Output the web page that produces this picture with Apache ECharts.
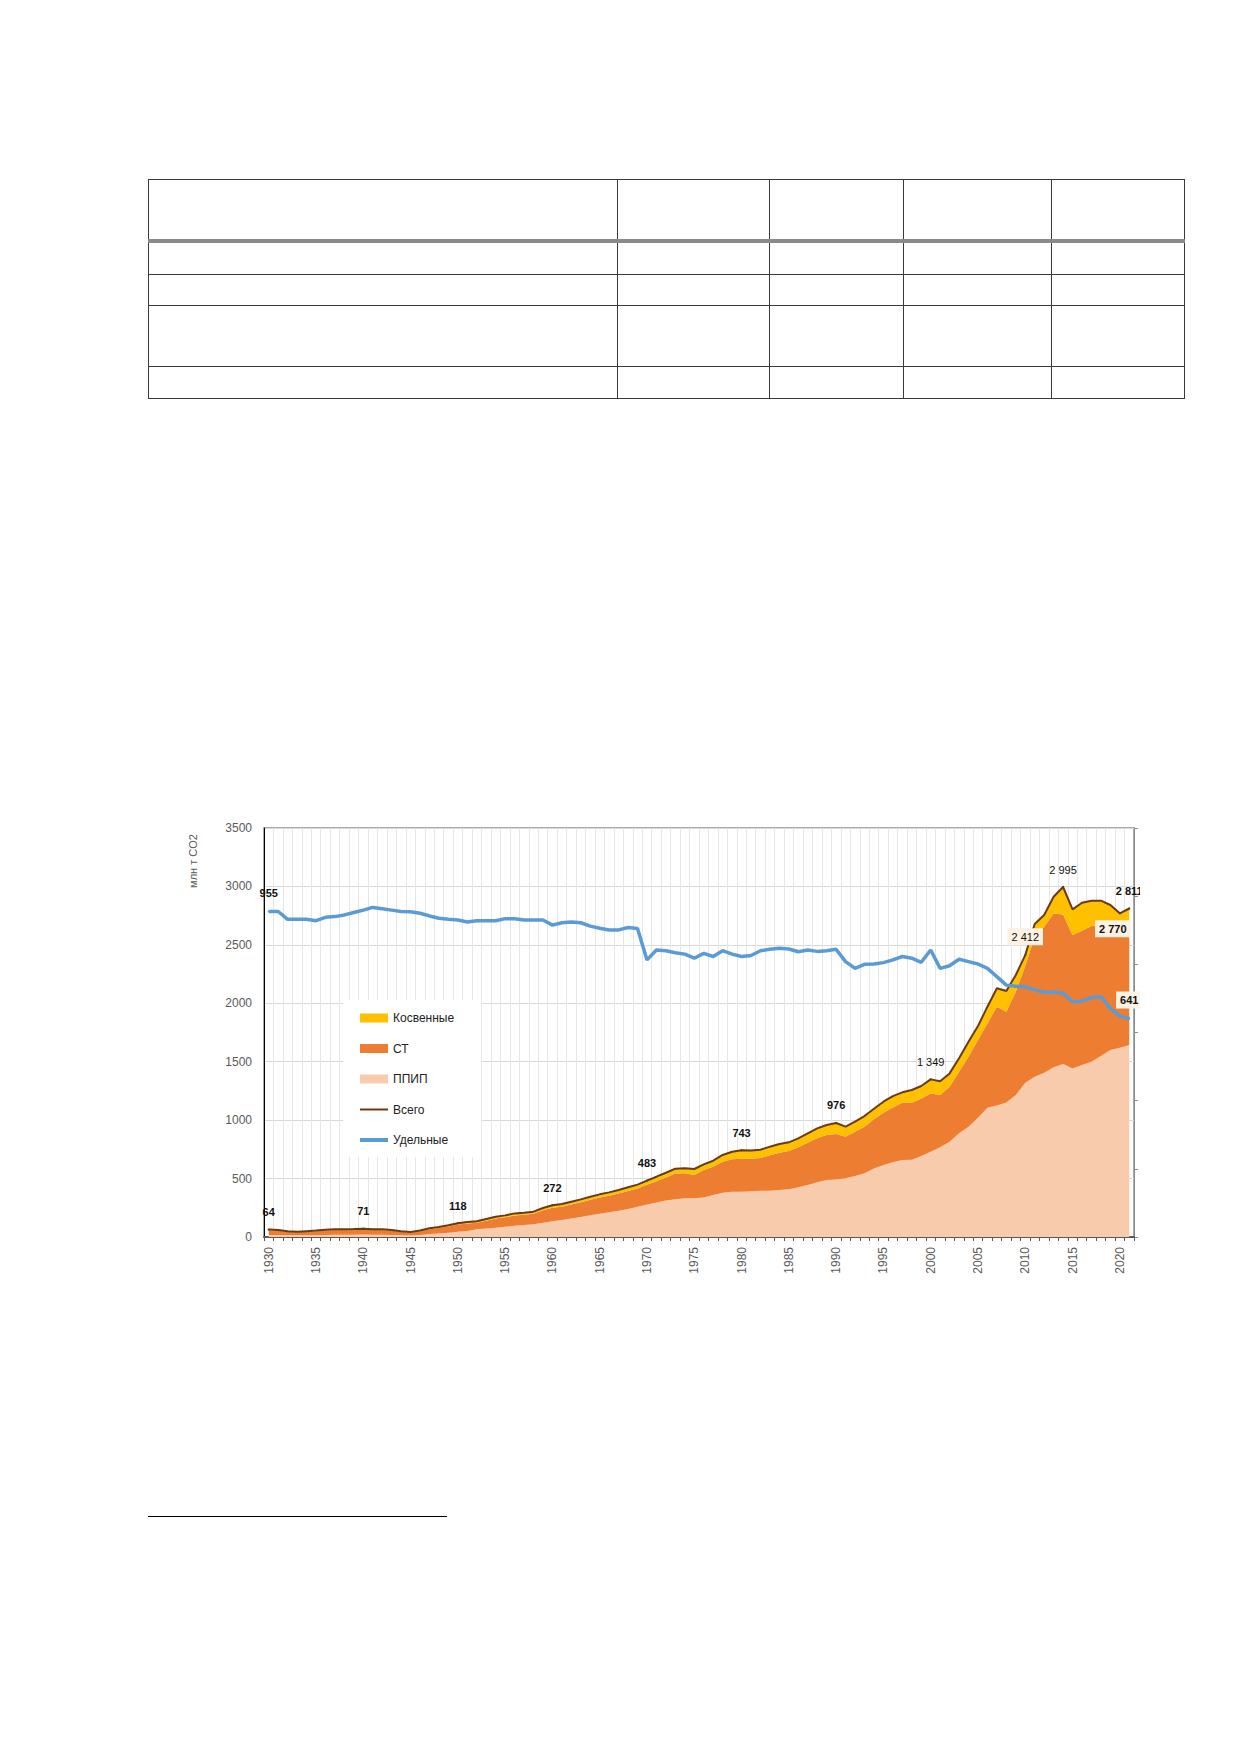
<!DOCTYPE html>
<html>
<head>
<meta charset="utf-8">
<title>Выбросы CO2</title>
<script src="https://cdn.jsdelivr.net/npm/echarts@6/dist/echarts.min.js"></script>
<style>
    html, body {margin: 0; padding: 0; background: #fff;}
    body {width: 1240px; height: 1754px; position: relative; overflow: hidden; font-family: "Liberation Sans", Arial, sans-serif;}
    /* пустая таблица над графиком */
    table.tbl {position: absolute; left: 148px; top: 179px; border-collapse: collapse;}
    table.tbl td {border: 1.5px solid #3a3a3a; padding: 0;}
    table.tbl tr.head td {border-bottom: 4px solid #8a8a8a;}
    #footnote {position: absolute; left: 148px; top: 1516px; width: 299px; height: 0; border-top: 1px solid #000;}
    #chart {position: absolute; left: 0; top: 790px; width: 1140px; height: 510px;}
</style>
</head>
<body>

<table class="tbl">
    <tr class="head" style="height:61px"><td style="width:468px"></td><td style="width:151px"></td><td style="width:133px"></td><td style="width:147px"></td><td style="width:132px"></td></tr>
    <tr style="height:34px"><td></td><td></td><td></td><td></td><td></td></tr>
    <tr style="height:31px"><td></td><td></td><td></td><td></td><td></td></tr>
    <tr style="height:61px"><td></td><td></td><td></td><td></td><td></td></tr>
    <tr style="height:32px"><td></td><td></td><td></td><td></td><td></td></tr>
</table>

<div id="chart"></div>
<div id="footnote"></div>

<script>
// годы
var years = [1930, 1931, 1932, 1933, 1934, 1935, 1936, 1937, 1938, 1939,
    1940, 1941, 1942, 1943, 1944, 1945, 1946, 1947, 1948, 1949,
    1950, 1951, 1952, 1953, 1954, 1955, 1956, 1957, 1958, 1959,
    1960, 1961, 1962, 1963, 1964, 1965, 1966, 1967, 1968, 1969,
    1970, 1971, 1972, 1973, 1974, 1975, 1976, 1977, 1978, 1979,
    1980, 1981, 1982, 1983, 1984, 1985, 1986, 1987, 1988, 1989,
    1990, 1991, 1992, 1993, 1994, 1995, 1996, 1997, 1998, 1999,
    2000, 2001, 2002, 2003, 2004, 2005, 2006, 2007, 2008, 2009,
    2010, 2011, 2012, 2013, 2014, 2015, 2016, 2017, 2018, 2019,
    2020, 2021];

// ППИП, млн т CO2
var ppip = [18, 17, 15, 14, 15, 16, 18, 19, 19, 20,
    21, 20, 20, 18, 15, 13, 18, 25, 30, 37,
    45, 52, 66, 72, 80, 88, 96, 103, 110, 122,
    135, 145, 158, 172, 186, 200, 212, 225, 240, 258,
    278, 296, 312, 322, 331, 331, 339, 359, 379, 388,
    388, 391, 396, 396, 402, 408, 425, 445, 468, 488,
    493, 502, 522, 545, 587, 616, 640, 659, 662, 693,
    730, 767, 816, 887, 944, 1020, 1105, 1125, 1150, 1215,
    1320, 1372, 1406, 1452, 1480, 1443, 1472, 1500, 1549, 1600,
    1620, 1643];

// СТ
var st = [39, 36, 29, 26, 29, 33, 37, 40, 40, 41,
    43, 40, 39, 36, 30, 24, 31, 42, 46, 53,
    61, 63, 55, 68, 79, 81, 89, 87, 89, 106,
    115, 114, 120, 125, 133, 138, 142, 147, 153, 156,
    169, 182, 198, 221, 214, 199, 234, 243, 266, 277,
    282, 279, 280, 303, 319, 328, 342, 362, 376, 385,
    389, 356, 379, 399, 420, 448, 469, 490, 487, 493,
    499, 448, 470, 528, 599, 666, 723, 846, 778, 884,
    1000, 1198, 1249, 1317, 1280, 1141, 1149, 1161, 1120, 1069,
    1030, 1037];

// Косвенные
var kos = [7, 7, 6, 5, 6, 6, 7, 7, 7, 7,
    7, 7, 7, 6, 5, 5, 6, 8, 9, 10,
    12, 13, 13, 14, 15, 16, 17, 18, 18, 20,
    22, 23, 24, 25, 26, 27, 28, 30, 32, 34,
    36, 38, 40, 42, 43, 52, 49, 51, 57, 65,
    73, 71, 71, 74, 75, 74, 77, 80, 86, 85,
    94, 86, 86, 91, 91, 94, 97, 89, 109, 106,
    120, 117, 114, 114, 128, 119, 143, 157, 177, 143,
    92, 108, 100, 143, 235, 220, 239, 217, 209, 172,
    120, 131];

// Всего
var total = [64, 60, 50, 45, 50, 55, 62, 66, 66, 68,
    71, 67, 66, 60, 50, 42, 55, 75, 85, 100,
    118, 128, 134, 154, 174, 185, 202, 208, 217, 248,
    272, 282, 302, 322, 345, 365, 382, 402, 425, 448,
    483, 516, 550, 585, 588, 582, 622, 653, 702, 730,
    743, 741, 747, 773, 796, 810, 844, 887, 930, 958,
    976, 944, 987, 1035, 1098, 1158, 1206, 1238, 1258, 1292,
    1349, 1332, 1400, 1529, 1671, 1805, 1971, 2128, 2105, 2242,
    2412, 2678, 2755, 2912, 2995, 2804, 2860, 2878, 2878, 2841,
    2770, 2811];

// Удельные (правая ось)
var specific = [955, 955, 932, 932, 932, 928, 938, 940, 945, 952,
    959, 967, 963, 959, 955, 954, 950, 942, 935, 932,
    930, 924, 928, 928, 928, 934, 934, 930, 930, 930,
    915, 922, 924, 922, 912, 906, 901, 901, 908, 905,
    813, 842, 840, 834, 830, 818, 832, 823, 840, 830,
    823, 826, 840, 844, 847, 845, 837, 842, 838, 840,
    844, 808, 788, 800, 801, 805, 813, 823, 818, 806,
    842, 788, 796, 815, 808, 801, 788, 764, 739, 736,
    734, 725, 718, 718, 715, 690, 692, 703, 705, 671,
    648, 641];

// подписанные точки
var totalLabelYears = [1930, 1940, 1950, 1960, 1970, 1980, 1990, 2000, 2010, 2014, 2020, 2021];
var plainLabelYears = [2000, 2010, 2014];
var boxLabelYears = [2010, 2020];
var specificLabelYears = [1930, 2021];

var FONT = '"Liberation Sans", Arial, sans-serif';
var BOX = '#fcf1e2';

function fmt(v) {
    if (v < 1000) return String(v);
    var r = v % 1000;
    return Math.floor(v / 1000) + ' ' + (r < 10 ? '00' : r < 100 ? '0' : '') + r;
}

var totalData = total.map(function (v, i) {
    var y = years[i];
    if (totalLabelYears.indexOf(y) < 0) return v;
    var lab = {
        show: true, position: 'top', distance: 11,
        formatter: fmt(v), color: '#111', fontSize: 11, fontFamily: FONT,
        fontWeight: plainLabelYears.indexOf(y) < 0 ? 'bold' : 'normal'
    };
    if (boxLabelYears.indexOf(y) >= 0) {
        lab.backgroundColor = BOX;
        lab.padding = [3, 4];
        lab.distance = 9;
    }
    if (y === 2020) {
        lab.position = 'bottom';
        lab.distance = 6;
        lab.offset = [-7, 0];
    }
    return {value: v, symbol: 'circle', symbolSize: 2, label: lab};
});

var specificData = specific.map(function (v, i) {
    var y = years[i];
    if (specificLabelYears.indexOf(y) < 0) return v;
    var lab = {
        show: true, position: 'top', distance: 12,
        formatter: String(v), color: '#111', fontSize: 11, fontFamily: FONT, fontWeight: 'bold'
    };
    if (y === 2021) {
        lab.backgroundColor = BOX;
        lab.padding = [3, 4];
        lab.distance = 9;
    }
    return {value: v, symbol: 'circle', symbolSize: 2, label: lab};
});

function area(name, data, color) {
    return {
        name: name, type: 'line', stack: 'emis', data: data,
        symbol: 'none', color: color,
        lineStyle: {width: 0},
        areaStyle: {color: color, opacity: 1},
        silent: true
    };
}

var myChart = echarts.init(document.getElementById('chart'), null, {renderer: 'svg'});

var option = {
    animation: false,
    textStyle: {fontFamily: FONT},
    grid: {
        left: 264, top: 38, right: 6, bottom: 63,
        show: true, borderColor: '#8c8c8c', borderWidth: 1.5
    },
    legend: {
        left: 343, top: 210,
        orient: 'vertical',
        backgroundColor: '#fff',
        padding: [11, 27, 10, 17],
        itemWidth: 28, itemHeight: 9, itemGap: 16.5,
        textStyle: {fontSize: 12, lineHeight: 14, color: '#222', fontFamily: FONT},
        data: [
            {name: 'Косвенные', icon: 'rect'},
            {name: 'СТ', icon: 'rect'},
            {name: 'ППИП', icon: 'rect'},
            {name: 'Всего', icon: 'path://M0,0 L28,0 L28,2 L0,2 Z'},
            {name: 'Удельные', icon: 'path://M0,0 L28,0 L28,4 L0,4 Z'}
        ]
    },
    xAxis: {
        type: 'category',
        data: years,
        boundaryGap: true,
        axisLine: {lineStyle: {color: '#595959', width: 2}},
        axisTick: {show: true, interval: 0, length: 4, lineStyle: {color: '#595959'}},
        axisLabel: {interval: 4, rotate: 90, fontSize: 12, color: '#595959', margin: 10, fontFamily: FONT},
        splitLine: {show: true, interval: 0, lineStyle: {color: '#e6e6e6', width: 1}}
    },
    yAxis: [
        {
            type: 'value', min: 0, max: 3500, interval: 500,
            axisLine: {show: true, lineStyle: {color: '#000', width: 1}},
            axisTick: {show: false},
            axisLabel: {
                fontSize: 12, color: '#595959', margin: 12, fontFamily: FONT,
                formatter: function (v) { return String(v); }
            },
            splitLine: {lineStyle: {color: '#d9d9d9', width: 1}}
        },
        {
            type: 'value', min: 0, max: 1200, interval: 200, position: 'right',
            axisLine: {show: true, lineStyle: {color: '#8c8c8c', width: 1}},
            axisTick: {show: true, length: 4, lineStyle: {color: '#8c8c8c'}},
            axisLabel: {show: false},
            splitLine: {show: false}
        }
    ],
    graphic: [{
        type: 'text',
        x: 193, y: 71,
        rotation: Math.PI / 2,
        style: {
            text: 'млн т CO2',
            fill: '#595959',
            font: '11px ' + FONT,
            align: 'center',
            verticalAlign: 'middle'
        }
    }],
    series: [
        area('ППИП', ppip, '#f8cbad'),
        area('СТ', st, '#ed7d31'),
        area('Косвенные', kos, '#ffc000'),
        {
            name: 'Всего', type: 'line', data: totalData,
            symbol: 'none', showAllSymbol: true,
            color: '#6b3a12',
            itemStyle: {color: '#6b3a12'},
            lineStyle: {width: 2, color: '#6b3a12'},
            z: 3, silent: true
        },
        {
            name: 'Удельные', type: 'line', data: specificData, yAxisIndex: 1,
            symbol: 'none', showAllSymbol: true,
            color: '#5b9bd5',
            itemStyle: {color: '#5b9bd5'},
            lineStyle: {width: 3.5, color: '#5b9bd5'},
            z: 4, silent: true
        }
    ]
};

myChart.setOption(option);
</script>
</body>
</html>
